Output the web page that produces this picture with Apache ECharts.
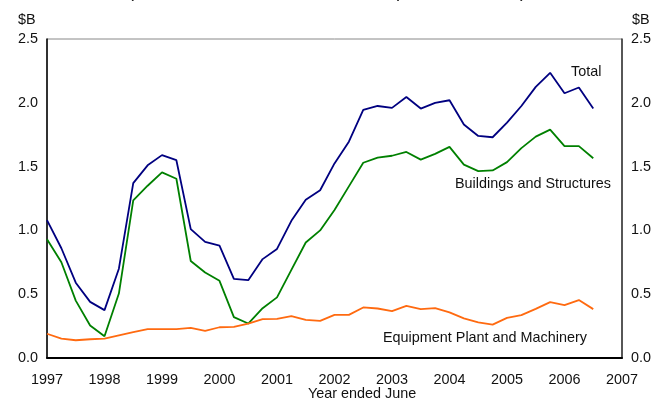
<!DOCTYPE html>
<html>
<head>
<meta charset="utf-8">
<script src="https://cdn.jsdelivr.net/npm/echarts@6/dist/echarts.min.js"></script>
<style>
  html, body { margin: 0; padding: 0; background: #fff; }
  #chart { width: 665px; height: 401px; }
</style>
</head>
<body>
<div id="chart"></div>
<script>
// quarters, year ended June
// prettier-ignore
const quarters = ['1997 Jun','1997 Sep','1997 Dec','1998 Mar','1998 Jun','1998 Sep','1998 Dec','1999 Mar',
  '1999 Jun','1999 Sep','1999 Dec','2000 Mar','2000 Jun','2000 Sep','2000 Dec','2001 Mar',
  '2001 Jun','2001 Sep','2001 Dec','2002 Mar','2002 Jun','2002 Sep','2002 Dec','2003 Mar',
  '2003 Jun','2003 Sep','2003 Dec','2004 Mar','2004 Jun','2004 Sep','2004 Dec','2005 Mar',
  '2005 Jun','2005 Sep','2005 Dec','2006 Mar','2006 Jun','2006 Sep','2006 Dec','2007 Mar','2007 Jun'];
// prettier-ignore
const yearLabels = ['1997','1998','1999','2000','2001','2002','2003','2004','2005','2006','2007'];
// prettier-ignore
const total = [1.08, 0.86, 0.59, 0.44, 0.375, 0.70, 1.37, 1.51, 1.59, 1.55, 1.01, 0.91, 0.88, 0.62, 0.61, 0.775,
  0.855, 1.075, 1.24, 1.315, 1.525, 1.695, 1.945, 1.975, 1.96, 2.045, 1.955, 2.0, 2.02, 1.83, 1.74, 1.73,
  1.845, 1.975, 2.125, 2.235, 2.075, 2.12, 1.955];
// prettier-ignore
const buildings = [0.93, 0.75, 0.45, 0.255, 0.17, 0.505, 1.235, 1.35, 1.455, 1.405, 0.76, 0.67, 0.605, 0.32, 0.27, 0.39,
  0.475, 0.69, 0.905, 1.0, 1.16, 1.345, 1.53, 1.57, 1.585, 1.615, 1.555, 1.6, 1.655, 1.515, 1.465, 1.47,
  1.535, 1.645, 1.735, 1.79, 1.66, 1.66, 1.565];
// prettier-ignore
const equipment = [0.19, 0.152, 0.139, 0.147, 0.152, 0.178, 0.202, 0.226, 0.226, 0.226, 0.236, 0.212, 0.241, 0.244, 0.27, 0.304,
  0.307, 0.328, 0.299, 0.291, 0.338, 0.338, 0.396, 0.388, 0.367, 0.409, 0.383, 0.391, 0.357, 0.31, 0.28, 0.262,
  0.314, 0.336, 0.385, 0.438, 0.414, 0.454, 0.383];

var font = "'Liberation Sans', Arial, sans-serif";
var fs = 14.4;
var chartDom = document.getElementById("chart");
var myChart = echarts.init(chartDom);

function yAxisConf(pos, lineColor) {
    return {
        type: "value",
        position: pos,
        min: 0,
        max: 2.5,
        interval: 0.5,
        axisLine: { show: true, lineStyle: { color: lineColor, width: 1.5 } },
        axisTick: { show: false },
        splitLine: { show: false },
        axisLabel: {
            margin: 9,
            color: "#111",
            fontSize: fs,
            fontFamily: font,
            formatter: function (v) { return v.toFixed(1); },
        },
    };
}

function lineSeries(name, data, color) {
    return {
        name: name,
        type: "line",
        data: data,
        symbol: "none",
        lineStyle: { color: color, width: 1.8 },
        itemStyle: { color: color },
        animation: false,
    };
}

function label(text, x, y, align) {
    return {
        type: "text",
        left: x, top: y,
        style: { text: text, x: 0, y: 0, fill: "#111", font: fs + "px " + font, textAlign: align || "left" },
    };
}

var option = {
    backgroundColor: "#fff",
    grid: {
        left: 47, right: 43, top: 39, bottom: 43,
        show: true, borderColor: "#888", borderWidth: 1,
    },
    xAxis: {
        type: "category",
        data: quarters,
        boundaryGap: false,
        axisLine: { lineStyle: { color: "#000", width: 2 } },
        axisTick: { show: false },
        axisLabel: {
            interval: 3,
            margin: 15,
            color: "#111",
            fontSize: fs,
            fontFamily: font,
            formatter: function (v, i) { return yearLabels[i / 4]; },
        },
    },
    yAxis: [yAxisConf("left", "#000"), yAxisConf("right", "#333")],
    series: [
        lineSeries("Total", total, "#000080"),
        lineSeries("Buildings and Structures", buildings, "#008000"),
        lineSeries("Equipment Plant and Machinery", equipment, "#ff6a10"),
    ],
    graphic: [
        // cut-off heading at the very top
        { type: "text", left: 128, top: -17, style: { text: "(", font: "18px " + font, fill: "#111" } },
        { type: "text", left: 396, top: -17, style: { text: "p", font: "18px " + font, fill: "#111" } },
        { type: "text", left: 520, top: -17, style: { text: ")", font: "18px " + font, fill: "#111" } },
        label("$B", 18, 13),
        label("$B", 632, 13),
        label("Total", 571, 65),
        label("Buildings and Structures", 455, 177),
        label("Equipment Plant and Machinery", 383, 331),
        label("Year ended June", 308, 387),
    ],
};

option && myChart.setOption(option);
</script>
</body>
</html>
